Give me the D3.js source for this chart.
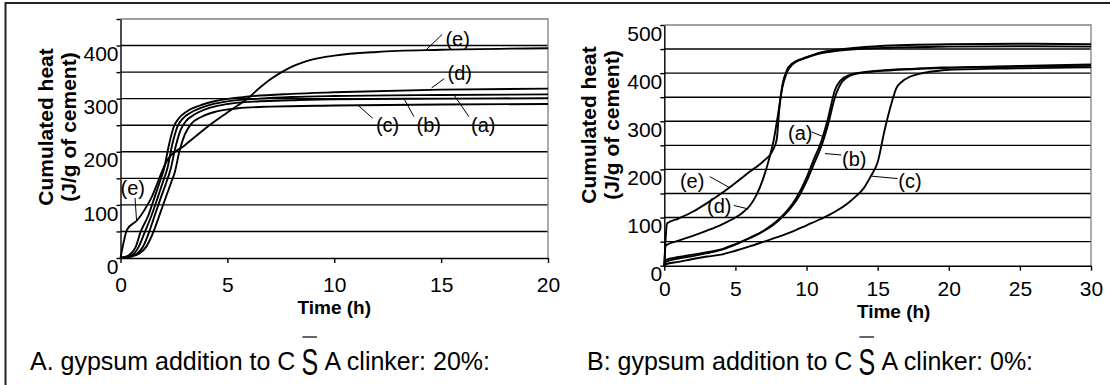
<!DOCTYPE html>
<html>
<head>
<meta charset="utf-8">
<script src="https://cdn.jsdelivr.net/npm/d3@7"></script>
<style>
  body { margin: 0; background: #fff; }
  svg { display: block; }
  text { font-family: Arial, "Liberation Sans", sans-serif; fill: #000; }
</style>
</head>
<body>
<div id="my_dataviz"></div>
<script>
// ---- data: panel A (20% gypsum), time in h, cumulated heat in J/g
var timeTicksA = [0, 5, 10, 15, 20];
var heatLabelsA = [0, 100, 200, 300, 400];
var heatGridA = [0, 50, 100, 150, 200, 250, 300, 350, 400, 450];

var seriesA_a = [[0,0],[0.35,3],[0.65,9],[0.85,21],[1.15,50],[1.45,80],[1.75,115],[2.0,145],[2.2,170],[2.4,210],[2.65,246],[2.9,262],[3.3,274],[4,286],[5,295],[6.5,300],[8,303],[10,305],[15,307],[20,308]];
var seriesA_b = [[0,0],[0.45,3],[0.8,9],[1.05,21],[1.35,50],[1.6,80],[1.9,115],[2.15,143],[2.35,168],[2.55,205],[2.8,240],[3.05,257],[3.5,271],[4.2,283],[5,290],[6.5,295],[8,297],[10,299],[15,300],[20,301]];
var seriesA_c = [[0,0],[0.55,3],[0.9,9],[1.2,21],[1.55,50],[1.8,78],[2.1,112],[2.35,140],[2.55,163],[2.75,200],[3.0,232],[3.3,252],[3.8,266],[4.5,276],[5.5,282],[7,285],[10,287],[15,289],[20,290]];
var seriesA_d = [[0,0],[0.3,3],[0.5,9],[0.7,20],[0.95,50],[1.3,80],[1.6,115],[1.85,145],[2.05,170],[2.25,210],[2.5,248],[2.75,264],[3.1,276],[3.7,287],[4.5,296],[6,304],[8,309],[10,312],[15,317],[20,319]];
var seriesA_e = [[0,0],[0.15,30],[0.3,53],[0.8,72],[1.4,110],[2.2,185],[3,212],[4,245],[5,274],[6,302],[6.5,320],[7,336],[7.5,349],[8,360],[8.5,368],[9,374],[10,381],[12,388],[15,392],[20,395]];

// label text anchor [t, v] and pointer [t1, v1, t2, v2]
var labelsA = [
  {text: "(e)", at: [15.2, 399], ptr: [15.05, 421, 14.3, 392]},
  {text: "(d)", at: [15.3, 335], ptr: [15.15, 338, 14.55, 320]},
  {text: "(c)", at: [11.95, 237], ptr: [11.8, 263, 11.1, 288]},
  {text: "(b)", at: [13.85, 237], ptr: [13.73, 266, 13.29, 298]},
  {text: "(a)", at: [16.4, 237], ptr: [16.3, 266, 15.6, 307]},
  {text: "(e)", at: [0.0, 119], ptr: [0.68, 113, 0.75, 71]}
];

// ---- data: panel B (0% gypsum)
var timeTicksB = [0, 5, 10, 15, 20, 25, 30];
var heatLabelsB = [0, 100, 200, 300, 400, 500];
var heatGridB = [0, 50, 100, 150, 200, 250, 300, 350, 400, 450, 500];

var seriesB_a = [[0,0],[0.1,12],[1,18],[2,23],[3,28],[4,34],[5,45],[6,58],[7,73],[8,95],[9,128],[9.5,152],[10,183],[10.5,220],[11,255],[11.5,305],[12,365],[12.4,385],[13,396],[14,402],[16,407],[18,410],[20,412],[25,415],[30,418]];
var seriesB_b = [[0,0],[0.1,8],[1,15],[2,20],[3,26],[4,33],[5,44],[6,57],[7,72],[8,93],[9,124],[9.5,146],[10,175],[10.5,210],[11,245],[11.5,292],[12,350],[12.5,382],[13,394],[14,401],[16,406],[18,409],[20,411],[25,413],[30,415]];
var seriesB_c = [[0,0],[0.1,3],[1,8],[2,14],[3,19],[4,23],[5,31],[6,40],[7,50],[8,60],[9,71],[10,84],[11,97],[12,112],[13,132],[13.5,145],[14,160],[14.5,185],[15,215],[15.5,283],[16,340],[16.3,368],[16.7,382],[17.3,393],[18,399],[19,404],[20,407],[25,410],[30,412]];
var seriesB_d = [[0,0],[0.1,42],[1,52],[2,62],[3,73],[4,85],[5,100],[5.5,110],[6,124],[6.5,148],[7,185],[7.4,225],[7.7,262],[8,315],[8.3,370],[8.6,400],[9,418],[10,432],[11,441],[12,446],[15,452],[20,455],[25,456],[30,455]];
var seriesB_e = [[0,0],[0.1,60],[0.2,88],[1,98],[2,112],[3,130],[4,150],[5,172],[6,195],[7,218],[7.6,238],[7.9,262],[8.1,330],[8.3,375],[8.6,405],[9,420],[10,433],[11,443],[12,448],[15,456],[20,460],[25,461],[30,460]];

var labelsB = [
  {text: "(e)", at: [1.1, 161], ptr: [3.2, 185, 4.6, 162]},
  {text: "(d)", at: [3.0, 109], ptr: [4.9, 125, 5.9, 118]},
  {text: "(a)", at: [8.7, 261], ptr: [10.35, 278, 11.17, 268]},
  {text: "(b)", at: [12.5, 207], ptr: [12.45, 230, 11.3, 233]},
  {text: "(c)", at: [16.45, 161], ptr: [16.4, 181, 14.56, 186]}
];

var width = 1110, height = 385;

var svg = d3.select("#my_dataviz")
  .append("svg")
    .attr("width", width)
    .attr("height", height);

// outer frame (only top and left edges fall inside the picture)
svg.append("rect")
  .attr("x", 5.5).attr("y", 3)
  .attr("width", width + 10).attr("height", height + 10)
  .attr("fill", "none")
  .attr("stroke", "#222")
  .attr("stroke-width", 2);

function drawPanel(p) {
  var x = d3.scaleLinear().domain(p.xDomain).range(p.xRange);
  var y = d3.scaleLinear().domain(p.yDomain).range(p.yRange);
  var g = svg.append("g");

  // gridlines
  g.selectAll(".grid")
    .data(p.grid.filter(function(d) { return d > p.yDomain[0] && d < p.yDomain[1]; }))
    .enter()
    .append("line")
      .attr("x1", x(p.xDomain[0]))
      .attr("x2", x(p.xDomain[1]))
      .attr("y1", function(d) { return y(d); })
      .attr("y2", function(d) { return y(d); })
      .attr("stroke", "#000")
      .attr("stroke-width", 1.4);

  // grey plot border on top and right
  g.append("path")
    .attr("d", "M" + x(p.xDomain[0]) + "," + y(p.yDomain[1]) +
               "H" + x(p.xDomain[1]) + "V" + y(p.yDomain[0]))
    .attr("fill", "none")
    .attr("stroke", "#808080")
    .attr("stroke-width", 1.3);

  // y axis
  var yAxis = g.append("g")
    .attr("transform", "translate(" + x(p.xDomain[0]) + ",0)")
    .call(d3.axisLeft(y)
      .tickValues(p.grid)
      .tickSize(4)
      .tickSizeOuter(0)
      .tickFormat(function(d) { return p.labels.indexOf(d) >= 0 ? d : ""; }));
  yAxis.selectAll("text")
    .attr("x", -2)
    .attr("dy", "0.72em")
    .style("font-size", "21px")
    .style("font-family", "Arial, 'Liberation Sans', sans-serif");

  // x axis
  var xAxis = g.append("g")
    .attr("transform", "translate(0," + y(p.yDomain[0]) + ")")
    .call(d3.axisBottom(x)
      .tickValues(p.xTicks)
      .tickSize(5)
      .tickSizeOuter(0));
  xAxis.selectAll("text")
    .attr("y", p.xLabelY)
    .attr("dy", "0.72em")
    .style("font-size", "21px")
    .style("font-family", "Arial, 'Liberation Sans', sans-serif");
  g.selectAll(".domain, .tick line").attr("stroke", "#000").attr("stroke-width", 1.4);

  // curves
  var line = d3.line()
    .x(function(d) { return x(d[0]); })
    .y(function(d) { return y(d[1]); })
    .curve(d3.curveMonotoneX);
  g.selectAll(".curve")
    .data(p.series)
    .enter()
    .append("path")
      .attr("d", line)
      .attr("fill", "none")
      .attr("stroke", "#000")
      .attr("stroke-width", 1.9);

  // curve labels with pointer lines
  g.selectAll(".ptr")
    .data(p.notes)
    .enter()
    .append("line")
      .attr("x1", function(d) { return x(d.ptr[0]); })
      .attr("y1", function(d) { return y(d.ptr[1]); })
      .attr("x2", function(d) { return x(d.ptr[2]); })
      .attr("y2", function(d) { return y(d.ptr[3]); })
      .attr("stroke", "#000")
      .attr("stroke-width", 1);
  g.selectAll(".note")
    .data(p.notes)
    .enter()
    .append("text")
      .attr("x", function(d) { return x(d.at[0]); })
      .attr("y", function(d) { return y(d.at[1]); })
      .style("font-size", "20px")
      .text(function(d) { return d.text; });

  // axis titles
  g.append("text")
    .attr("x", (p.xRange[0] + p.xRange[1]) / 2 + p.xTitleShift)
    .attr("y", p.xTitleY)
    .attr("text-anchor", "middle")
    .style("font-size", "19px")
    .style("font-weight", "bold")
    .text("Time (h)");
  var yt = g.append("text")
    .attr("transform", "translate(" + p.yTitleX + "," + p.yTitleY + ") rotate(-90)")
    .attr("text-anchor", "middle")
    .style("font-size", "21px")
    .style("font-weight", "bold");
  yt.append("tspan").attr("x", 0).attr("y", 0).text("Cumulated heat");
  yt.append("tspan").attr("x", 0).attr("y", 23).text("(J/g of cement)");
}

drawPanel({
  xDomain: [0, 20], xRange: [120.5, 548],
  yDomain: [0, 450], yRange: [258, 19],
  xTicks: timeTicksA, labels: heatLabelsA, grid: heatGridA,
  series: [seriesA_a, seriesA_b, seriesA_c, seriesA_d, seriesA_e],
  notes: labelsA,
  xLabelY: 19, xTitleY: 314, xTitleShift: 0,
  yTitleX: 53, yTitleY: 127
});

drawPanel({
  xDomain: [0, 30], xRange: [664.3, 1091],
  yDomain: [0, 500], yRange: [265.7, 25],
  xTicks: timeTicksB, labels: heatLabelsB, grid: heatGridB,
  series: [seriesB_a, seriesB_b, seriesB_c, seriesB_d, seriesB_e],
  notes: labelsB,
  xLabelY: 15, xTitleY: 318, xTitleShift: 16,
  yTitleX: 596, yTitleY: 125
});

// captions: the S of C-S-A is drawn taller and carries an overline
function caption(x0, base, before, after) {
  var t1 = svg.append("text")
    .attr("x", x0).attr("y", base)
    .style("font-size", "25px")
    .style("white-space", "pre")
    .text(before);
  var sx = x0 + t1.node().getComputedTextLength() - 1;
  var s = svg.append("text")
    .attr("transform", "translate(" + sx + "," + (base + 4.5) + ") scale(1,1.5)")
    .style("font-size", "25px")
    .text("S");
  var sw = s.node().getComputedTextLength();
  svg.append("text")
    .attr("x", sx + sw + 1).attr("y", base)
    .style("font-size", "25px")
    .style("white-space", "pre")
    .text(after);
  svg.append("line")
    .attr("x1", sx + 1).attr("x2", sx + sw - 1)
    .attr("y1", base - 33).attr("y2", base - 33)
    .attr("stroke", "#333")
    .attr("stroke-width", 1.5);
}

caption(30, 370, "A. gypsum addition to C ", " A clinker: 20%:");
caption(587, 370, "B: gypsum addition to C ", " A clinker: 0%:");
</script>
</body>
</html>
